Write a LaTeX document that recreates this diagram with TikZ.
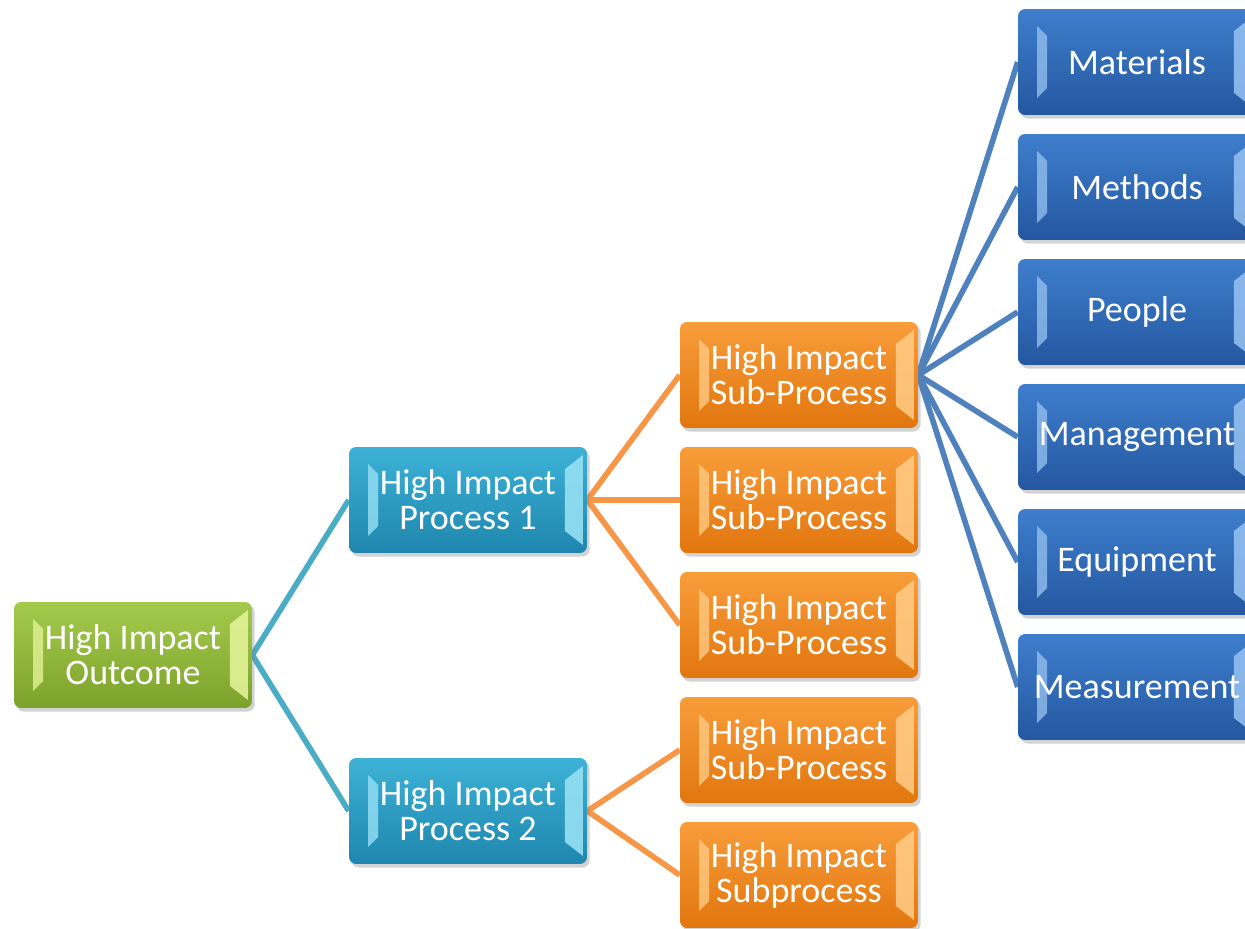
\documentclass[tikz,border=0pt]{standalone}
\usepackage{fontspec}
\setmainfont{Carlito}
\usetikzlibrary{shadows,backgrounds}

\definecolor{greenT}{HTML}{A4CA4C}
\definecolor{greenB}{HTML}{7DA22C}
\definecolor{greenL}{HTML}{E2F296}
\definecolor{tealT}{HTML}{3DB2D6}
\definecolor{tealB}{HTML}{1F86AE}
\definecolor{tealL}{HTML}{96E0F4}
\definecolor{orangeT}{HTML}{F89D3A}
\definecolor{orangeB}{HTML}{E2760E}
\definecolor{orangeL}{HTML}{FFC982}
\definecolor{blueT}{HTML}{3E7ECC}
\definecolor{blueB}{HTML}{2457A0}
\definecolor{blueL}{HTML}{92BEEE}
\definecolor{tealline}{HTML}{4BACC6}
\definecolor{orangeline}{HTML}{F79646}
\definecolor{blueline}{HTML}{4F81BD}

\tikzset{
  bevelbox/.style n args={3}{rounded corners=4pt, minimum width=4.76cm,
    minimum height=2.12cm, inner sep=0pt, text=white, align=center,
    font=\fontsize{20.5}{20}\selectfont, top color=#1, bottom color=#2,
    drop shadow={opacity=0.35, shadow xshift=1.5pt, shadow yshift=-2pt},
    path picture={
      \fill[#3, opacity=0.8, sharp corners]
        ([shift={(0.38cm,-0.34cm)}]path picture bounding box.north west)
        -- ([shift={(0.58cm,-0.54cm)}]path picture bounding box.north west)
        -- ([shift={(0.58cm,0.54cm)}]path picture bounding box.south west)
        -- ([shift={(0.38cm,0.34cm)}]path picture bounding box.south west) -- cycle;
      \fill[#3, opacity=0.9, sharp corners]
        ([shift={(-0.08cm,-0.16cm)}]path picture bounding box.north east)
        -- ([shift={(-0.44cm,-0.44cm)}]path picture bounding box.north east)
        -- ([shift={(-0.44cm,0.44cm)}]path picture bounding box.south east)
        -- ([shift={(-0.08cm,0.16cm)}]path picture bounding box.south east) -- cycle;
    }},
  outcomebox/.style={bevelbox={greenT}{greenB}{greenL}},
  processbox/.style={bevelbox={tealT}{tealB}{tealL}},
  subbox/.style={bevelbox={orangeT}{orangeB}{orangeL}},
  factorbox/.style={bevelbox={blueT}{blueB}{blueL}},
  link/.style={line width=3.2pt}
}

\begin{document}
\begin{tikzpicture}[x=0.02cm, y=-0.02cm]
\useasboundingbox (0,0) rectangle (1245,929);

\node[outcomebox] (outcome) at (133,655) {High Impact\\Outcome};

\node[processbox] (proc1) at (468,500) {High Impact\\Process 1};
\node[processbox] (proc2) at (468,811) {High Impact\\Process 2};

\node[subbox] (sub1) at (799,375) {High Impact\\Sub-Process};
\node[subbox] (sub2) at (799,500) {High Impact\\Sub-Process};
\node[subbox] (sub3) at (799,625) {High Impact\\Sub-Process};
\node[subbox] (sub4) at (799,750) {High Impact\\Sub-Process};
\node[subbox] (sub5) at (799,875) {High Impact\\Subprocess};

\node[factorbox] (materials) at (1137,62) {Materials};
\node[factorbox] (methods) at (1137,187) {Methods};
\node[factorbox] (people) at (1137,312) {People};
\node[factorbox] (management) at (1137,437) {Management};
\node[factorbox] (equipment) at (1137,562) {Equipment};
\node[factorbox] (measurement) at (1137,687) {Measurement};

\begin{scope}[on background layer]
\draw[link, tealline] (outcome.east) -- (proc1.west);
\draw[link, tealline] (outcome.east) -- (proc2.west);

\draw[link, orangeline] (proc1.east) -- (sub1.west);
\draw[link, orangeline] (proc1.east) -- (sub2.west);
\draw[link, orangeline] (proc1.east) -- (sub3.west);
\draw[link, orangeline] (proc2.east) -- (sub4.west);
\draw[link, orangeline] (proc2.east) -- (sub5.west);

\draw[link, blueline] (sub1.east) -- (materials.west);
\draw[link, blueline] (sub1.east) -- (methods.west);
\draw[link, blueline] (sub1.east) -- (people.west);
\draw[link, blueline] (sub1.east) -- (management.west);
\draw[link, blueline] (sub1.east) -- (equipment.west);
\draw[link, blueline] (sub1.east) -- (measurement.west);
\end{scope}
\end{tikzpicture}
\end{document}
